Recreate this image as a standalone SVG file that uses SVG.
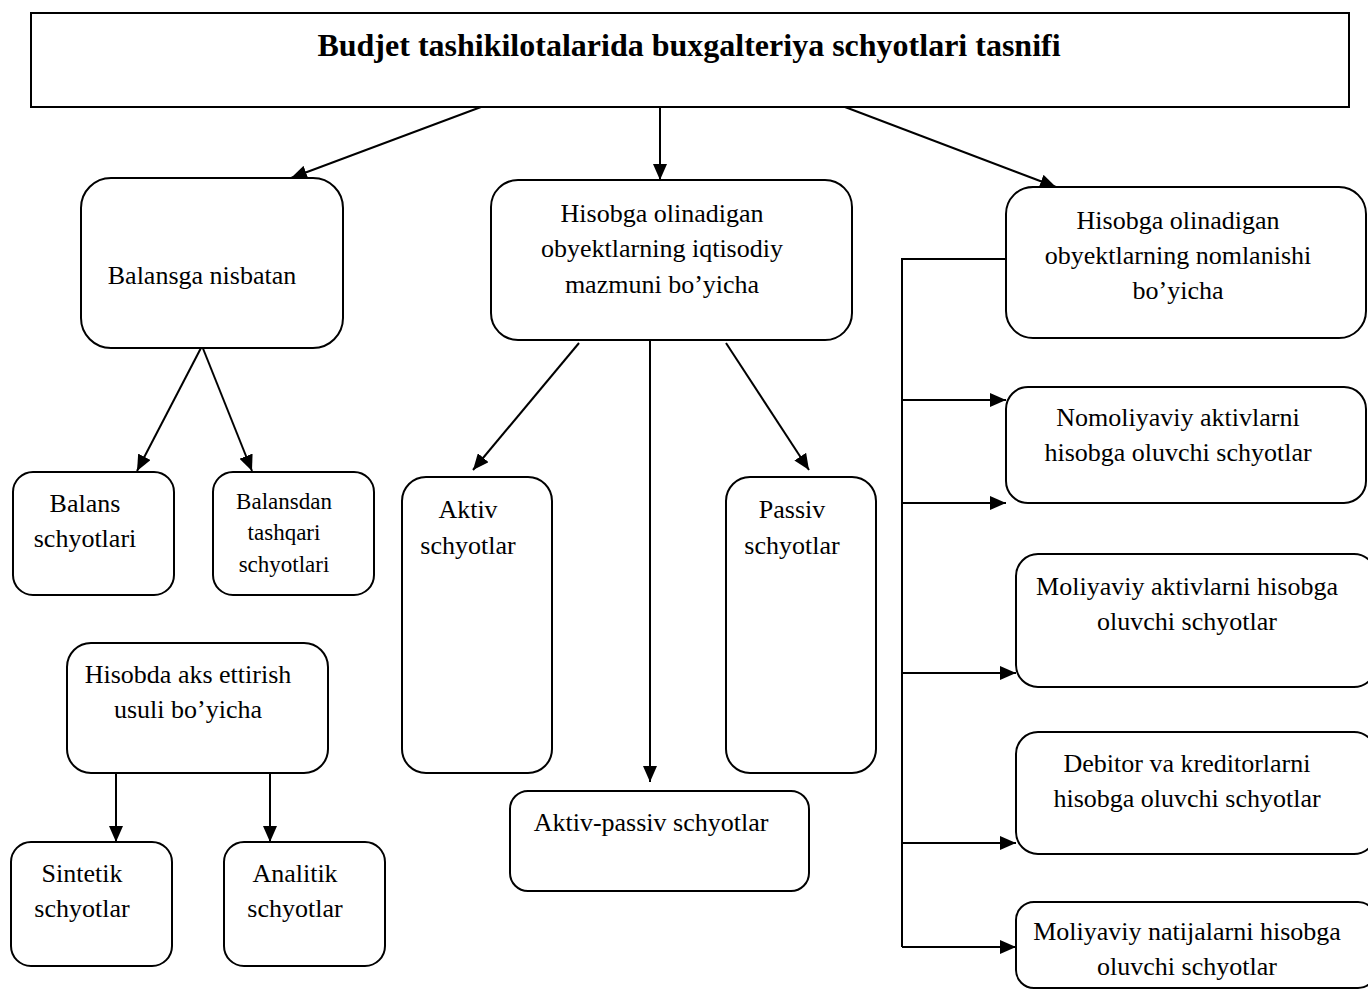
<svg xmlns="http://www.w3.org/2000/svg" width="1368" height="990" viewBox="0 0 1368 990">
  <style>
    .box { fill: #ffffff; stroke: #000000; stroke-width: 2; }
    .lbl { font-family: "Liberation Serif", "Times New Roman", serif; font-size: 26px; fill: #000000; text-anchor: middle; }
    .sm { font-size: 23px; }
    .title { font-family: "Liberation Serif", "Times New Roman", serif; font-size: 32px; font-weight: bold; fill: #000000; text-anchor: middle; }
    .edge { fill: none; stroke: #000000; stroke-width: 2; }
  </style>
  <defs>
    <marker id="arrow" markerUnits="userSpaceOnUse" markerWidth="17" markerHeight="14" refX="16" refY="7" orient="auto">
      <path d="M0,0 L16,7 L0,14 z" fill="#000000"/>
    </marker>
  </defs>
  <rect width="1368" height="990" fill="#ffffff"/>

  <!-- connectors -->
  <g id="connectors">
    <line class="edge" x1="481" y1="107" x2="291" y2="178" marker-end="url(#arrow)"/>
    <line class="edge" x1="660" y1="107" x2="660" y2="180" marker-end="url(#arrow)"/>
    <line class="edge" x1="845" y1="107" x2="1056" y2="187" marker-end="url(#arrow)"/>

    <line class="edge" x1="202" y1="346" x2="137" y2="471" marker-end="url(#arrow)"/>
    <line class="edge" x1="202" y1="346" x2="252" y2="471" marker-end="url(#arrow)"/>

    <line class="edge" x1="579" y1="343" x2="473" y2="470" marker-end="url(#arrow)"/>
    <line class="edge" x1="650" y1="337" x2="650" y2="782" marker-end="url(#arrow)"/>
    <line class="edge" x1="726" y1="343" x2="809" y2="470" marker-end="url(#arrow)"/>

    <line class="edge" x1="116" y1="773" x2="116" y2="842" marker-end="url(#arrow)"/>
    <line class="edge" x1="270" y1="773" x2="270" y2="842" marker-end="url(#arrow)"/>

    <polyline class="edge" points="1006,259 902,259 902,947"/>
    <line class="edge" x1="902" y1="400" x2="1006" y2="400" marker-end="url(#arrow)"/>
    <line class="edge" x1="902" y1="503" x2="1006" y2="503" marker-end="url(#arrow)"/>
    <line class="edge" x1="902" y1="673" x2="1016" y2="673" marker-end="url(#arrow)"/>
    <line class="edge" x1="902" y1="843" x2="1016" y2="843" marker-end="url(#arrow)"/>
    <line class="edge" x1="902" y1="947" x2="1016" y2="947" marker-end="url(#arrow)"/>
  </g>

  <!-- root -->
  <g id="root">
    <rect class="box" x="31" y="13" width="1318" height="94"/>
    <text class="title" x="689" y="56">Budjet tashikilotalarida buxgalteriya schyotlari tasnifi</text>
  </g>

  <g id="balansga">
    <rect class="box" x="81" y="178" width="262" height="170" rx="30" ry="30"/>
    <text class="lbl" x="202" y="284">Balansga nisbatan</text>
  </g>

  <g id="iqtisodiy">
    <rect class="box" x="491" y="180" width="361" height="160" rx="27" ry="27"/>
    <text class="lbl" x="662" y="222">Hisobga olinadigan</text>
    <text class="lbl" x="662" y="257">obyektlarning iqtisodiy</text>
    <text class="lbl" x="662" y="293">mazmuni bo’yicha</text>
  </g>

  <g id="nomlanishi">
    <rect class="box" x="1006" y="187" width="360" height="151" rx="27" ry="27"/>
    <text class="lbl" x="1178" y="229">Hisobga olinadigan</text>
    <text class="lbl" x="1178" y="264">obyektlarning nomlanishi</text>
    <text class="lbl" x="1178" y="299">bo’yicha</text>
  </g>

  <g id="balans">
    <rect class="box" x="13" y="472" width="161" height="123" rx="20" ry="20"/>
    <text class="lbl" x="85" y="512">Balans</text>
    <text class="lbl" x="85" y="547">schyotlari</text>
  </g>

  <g id="balansdan">
    <rect class="box" x="213" y="472" width="161" height="123" rx="20" ry="20"/>
    <text class="lbl sm" x="284" y="509">Balansdan</text>
    <text class="lbl sm" x="284" y="540">tashqari</text>
    <text class="lbl sm" x="284" y="572">schyotlari</text>
  </g>

  <g id="aks-ettirish">
    <rect class="box" x="67" y="643" width="261" height="130" rx="24" ry="24"/>
    <text class="lbl" x="188" y="683">Hisobda aks ettirish</text>
    <text class="lbl" x="188" y="718">usuli bo’yicha</text>
  </g>

  <g id="sintetik">
    <rect class="box" x="11" y="842" width="161" height="124" rx="20" ry="20"/>
    <text class="lbl" x="82" y="882">Sintetik</text>
    <text class="lbl" x="82" y="917">schyotlar</text>
  </g>

  <g id="analitik">
    <rect class="box" x="224" y="842" width="161" height="124" rx="20" ry="20"/>
    <text class="lbl" x="295" y="882">Analitik</text>
    <text class="lbl" x="295" y="917">schyotlar</text>
  </g>

  <g id="aktiv">
    <rect class="box" x="402" y="477" width="150" height="296" rx="24" ry="24"/>
    <text class="lbl" x="468" y="518">Aktiv</text>
    <text class="lbl" x="468" y="554">schyotlar</text>
  </g>

  <g id="passiv">
    <rect class="box" x="726" y="477" width="150" height="296" rx="24" ry="24"/>
    <text class="lbl" x="792" y="518">Passiv</text>
    <text class="lbl" x="792" y="554">schyotlar</text>
  </g>

  <g id="aktiv-passiv">
    <rect class="box" x="510" y="791" width="299" height="100" rx="18" ry="18"/>
    <text class="lbl" x="651" y="831">Aktiv-passiv schyotlar</text>
  </g>

  <g id="nomoliyaviy">
    <rect class="box" x="1006" y="387" width="360" height="116" rx="22" ry="22"/>
    <text class="lbl" x="1178" y="426">Nomoliyaviy aktivlarni</text>
    <text class="lbl" x="1178" y="461">hisobga oluvchi schyotlar</text>
  </g>

  <g id="moliyaviy-aktivlar">
    <rect class="box" x="1016" y="554" width="360" height="133" rx="22" ry="22"/>
    <text class="lbl" x="1187" y="595">Moliyaviy aktivlarni hisobga</text>
    <text class="lbl" x="1187" y="630">oluvchi schyotlar</text>
  </g>

  <g id="debitor">
    <rect class="box" x="1016" y="732" width="360" height="122" rx="22" ry="22"/>
    <text class="lbl" x="1187" y="772">Debitor va kreditorlarni</text>
    <text class="lbl" x="1187" y="807">hisobga oluvchi schyotlar</text>
  </g>

  <g id="natijalar">
    <rect class="box" x="1016" y="902" width="360" height="86" rx="18" ry="18"/>
    <text class="lbl" x="1187" y="940">Moliyaviy natijalarni hisobga</text>
    <text class="lbl" x="1187" y="975">oluvchi schyotlar</text>
  </g>
</svg>
